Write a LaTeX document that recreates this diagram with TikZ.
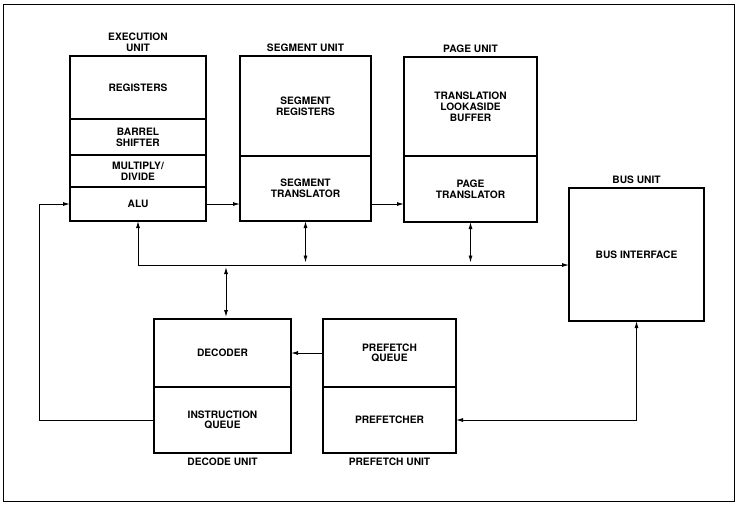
\documentclass[tikz,border=0pt]{standalone}
\usepackage{fontspec}
\setmainfont{TeX Gyre Heros}
\usetikzlibrary{arrows.meta,positioning}
\newcommand\lbltxt{\fontsize{10.2}{10.8}\selectfont\bfseries}
\begin{document}
\begin{tikzpicture}[x=1pt,y=-1pt,
  sec/.style={draw, line width=1.8pt, inner sep=0pt, outer sep=0pt, align=center, font=\lbltxt},
  unitbox/.style={draw, line width=2.6pt},
  title/.style={font=\lbltxt, align=center, inner sep=0pt},
  conn/.style={line width=0.9pt},
  >={Latex[length=7pt,width=4pt]}]
\useasboundingbox (0,0) rectangle (738,507);
\draw[line width=0.9pt] (3,4) rectangle (734,501);
% Execution unit
\node[sec, minimum width=136pt, minimum height=63pt] (regs) at (138,87.5) {REGISTERS};
\node[sec, minimum width=136pt, minimum height=36pt] (bs) at (138,137) {BARREL\\SHIFTER};
\node[sec, minimum width=136pt, minimum height=32pt] (md) at (138,171) {MULTIPLY/\\DIVIDE};
\node[sec, minimum width=136pt, minimum height=34pt] (alu) at (138,204) {ALU};
\draw[unitbox] (regs.north west) rectangle (alu.south east);
\node[title, above=4pt of regs.north] (eut) {EXECUTION\\UNIT};
% Segment unit
\node[sec, minimum width=131pt, minimum height=100pt] (sr) at (305.5,106) {SEGMENT\\REGISTERS};
\node[sec, minimum width=131pt, minimum height=65pt] (st) at (305.5,188.5) {SEGMENT\\TRANSLATOR};
\draw[unitbox] (sr.north west) rectangle (st.south east);
\node[title, above=4pt of sr.north] (sut) {SEGMENT UNIT};
% Page unit
\node[sec, minimum width=133pt, minimum height=99pt] (tlb) at (470.5,106.5) {TRANSLATION\\LOOKASIDE\\BUFFER};
\node[sec, minimum width=133pt, minimum height=66pt] (pt) at (470.5,189) {PAGE\\TRANSLATOR};
\draw[unitbox] (tlb.north west) rectangle (pt.south east);
\node[title, above=4pt of tlb.north] (put) {PAGE UNIT};
% Bus unit
\node[sec, minimum width=135pt, minimum height=133pt] (bus) at (636.5,254.5) {BUS INTERFACE};
\draw[unitbox] (bus.north west) rectangle (bus.south east);
\node[title, above=4pt of bus.north] (but) {BUS UNIT};
% Decode unit
\node[sec, minimum width=137pt, minimum height=68pt] (dec) at (222.5,353) {DECODER};
\node[sec, minimum width=137pt, minimum height=66pt] (iq) at (222.5,420) {INSTRUCTION\\QUEUE};
\draw[unitbox] (dec.north west) rectangle (iq.south east);
\node[title, below=5pt of iq.south] (dut) {DECODE UNIT};
% Prefetch unit
\node[sec, minimum width=133pt, minimum height=68pt] (pq) at (389.5,353) {PREFETCH\\QUEUE};
\node[sec, minimum width=133pt, minimum height=66pt] (pf) at (389.5,420) {PREFETCHER};
\draw[unitbox] (pq.north west) rectangle (pf.south east);
\node[title, below=5pt of pf.south] (put2) {PREFETCH UNIT};
% connectors
\coordinate (bl) at (0,265);
\coordinate (fb) at (39,0);
\coordinate (dn) at ([xshift=3.5pt]dec.north);
\draw[conn,->] (iq.west) -- (iq.west -| fb) |- (alu.west);
\draw[conn,->] (alu.east) -- (alu.east -| st.west);
\draw[conn,->] (alu.east -| st.east) -- (alu.east -| pt.west);
\draw[conn,<->] (alu.south) |- (bl -| bus.west);
\draw[conn,<->,shorten >=2.5pt] (st.south) -- (st.south |- bl);
\draw[conn,<->,shorten >=2.5pt] (pt.south) -- (pt.south |- bl);
\draw[conn,<->,shorten >=2pt,shorten <=2pt] (dn) -- (dn |- bl);
\draw[conn,->] (pq.west) -- (dec.east);
\draw[conn,<->] (bus.south) |- (pf.east);
\end{tikzpicture}
\end{document}
